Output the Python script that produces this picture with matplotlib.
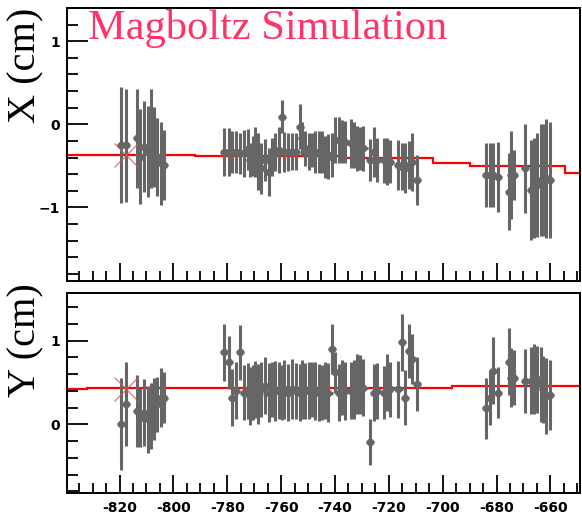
"""Track residual plot: Magboltz simulation, X and Y vs z."""

import matplotlib
matplotlib.use("Agg")
import matplotlib.pyplot as plt
from matplotlib.ticker import MultipleLocator

# hit positions along the drift (z) shared by both panels
Z_POS = [
    -819.4, -817.7, -813.4, -812.3, -810.8, -809.5, -808.4, -807.3, -806.0, -804.7, -803.4,
    -781.1, -779.5, -778.2, -776.6, -775.2, -773.9, -772.2, -771.4, -770.3, -769.6,
    -768.4, -767.5, -765.9, -764.6, -763.4, -762.2, -760.9, -759.7, -758.8, -757.6,
    -756.0, -754.4, -753.1, -752.2, -751.0, -749.8, -748.5, -747.3, -746.1, -744.8,
    -743.6, -742.4, -741.1, -739.9, -738.6, -737.4, -736.2, -734.0, -733.1, -731.8,
    -730.6, -729.4, -726.9, -725.6, -724.4, -721.9, -720.7, -719.4, -716.4, -715.1,
    -713.9, -712.6, -711.4, -709.5,
    -683.8, -682.3, -681.4, -679.6, -675.5, -674.6, -673.4, -669.4, -667.1, -666.0,
    -665.0, -663.5, -662.7, -661.5, -660.0,
]

X_VAL = [
    -0.25, -0.25, -0.17, -0.39, -0.27, -0.33, -0.17, -0.27, -0.39, -0.47, -0.49,
    -0.33, -0.33, -0.33, -0.33, -0.35, -0.35, -0.30, -0.43, -0.38, -0.33,
    -0.45, -0.53, -0.43, -0.57, -0.39, -0.33, -0.31, 0.09, -0.33, -0.33,
    -0.33, -0.33, -0.03, -0.17, -0.29, -0.33, -0.31, -0.33, -0.33, -0.33,
    -0.39, -0.39, -0.37, -0.19, -0.19, -0.21, -0.21, -0.23, -0.25, -0.29,
    -0.29, -0.29, -0.43, -0.33, -0.43, -0.43, -0.45, -0.45, -0.49, -0.51,
    -0.53, -0.49, -0.45, -0.67,
    -0.61, -0.61, -0.61, -0.63, -0.81, -0.61, -0.61, -0.53, -0.79, -0.77,
    -0.73, -0.67, -0.67, -0.65, -0.67,
]
X_ERR = [
    0.70, 0.68, 0.60, 0.57, 0.55, 0.55, 0.60, 0.48, 0.47, 0.50, 0.42,
    0.29, 0.29, 0.25, 0.25, 0.25, 0.28, 0.25, 0.20, 0.24, 0.30,
    0.34, 0.31, 0.25, 0.29, 0.23, 0.23, 0.28, 0.20, 0.24, 0.23,
    0.22, 0.22, 0.27, 0.20, 0.21, 0.22, 0.20, 0.25, 0.25, 0.25,
    0.25, 0.27, 0.26, 0.28, 0.28, 0.26, 0.25, 0.30, 0.28, 0.27,
    0.26, 0.27, 0.25, 0.30, 0.26, 0.27, 0.28, 0.26, 0.30, 0.28,
    0.30, 0.29, 0.35, 0.30,
    0.38, 0.38, 0.38, 0.42, 0.46, 0.53, 0.30, 0.54, 0.60, 0.60,
    0.62, 0.67, 0.67, 0.72, 0.70,
]

Y_VAL = [
    0.00, 0.24, 0.16, 0.08, 0.14, 0.06, 0.10, 0.18, 0.24, 0.32, 0.32,
    0.86, 0.74, 0.32, 0.40, 0.86, 0.38, 0.40, 0.34, 0.38, 0.42,
    0.36, 0.42, 0.46, 0.38, 0.42, 0.40, 0.40, 0.38, 0.42, 0.38,
    0.42, 0.40, 0.38, 0.42, 0.40, 0.40, 0.42, 0.40, 0.38, 0.38,
    0.40, 0.38, 0.90, 0.62, 0.38, 0.44, 0.40, 0.40, 0.42, 0.48,
    0.48, 0.44, -0.21, 0.38, 0.40, 0.38, 0.50, 0.42, 0.42, 0.98,
    0.32, 0.88, 0.78, 0.48,
    0.19, 0.32, 0.64, 0.38, 0.75, 0.56, 0.56, 0.52, 0.52, 0.54,
    0.54, 0.48, 0.42, 0.34, 0.35,
]
Y_ERR = [
    0.55, 0.50, 0.43, 0.35, 0.40, 0.40, 0.40, 0.37, 0.33, 0.35, 0.30,
    0.34, 0.32, 0.34, 0.34, 0.33, 0.33, 0.33, 0.35, 0.33, 0.34,
    0.36, 0.33, 0.34, 0.35, 0.33, 0.36, 0.34, 0.33, 0.35, 0.34,
    0.36, 0.33, 0.34, 0.35, 0.33, 0.34, 0.33, 0.35, 0.34, 0.33,
    0.34, 0.35, 0.30, 0.25, 0.34, 0.33, 0.35, 0.34, 0.35, 0.36,
    0.35, 0.34, 0.28, 0.34, 0.33, 0.32, 0.34, 0.33, 0.34, 0.34,
    0.33, 0.32, 0.30, 0.32,
    0.37, 0.33, 0.40, 0.30, 0.40, 0.35, 0.33, 0.38, 0.40, 0.42,
    0.40, 0.45, 0.40, 0.45, 0.42,
]

# fitted track, drawn as a step histogram
FIT_X_EDGES = [-839.5, -791.9, -738.0, -703.5, -689.7, -654.4, -649.0]
FIT_X_VALS = [-0.372, -0.384, -0.408, -0.468, -0.504, -0.585]
FIT_Y_EDGES = [-839.5, -832.1, -696.5, -649.0]
FIT_Y_VALS = [0.420, 0.436, 0.453]

# track start point
START_Z = -817.7
START_X = -0.37
START_Y = 0.42

Z_TICKS = [-820, -800, -780, -760, -740, -720, -700, -680, -660]

GREY = "#666666"
TICK_FONT = dict(family="DejaVu Sans", weight="bold", size=10)


def _style_axis(ax, ylim, show_xlabels):
    ax.set_xlim(-839.5, -649.0)
    ax.set_ylim(*ylim)
    ax.xaxis.set_major_locator(MultipleLocator(20))
    ax.xaxis.set_minor_locator(MultipleLocator(5))
    ax.yaxis.set_major_locator(MultipleLocator(1))
    ax.yaxis.set_minor_locator(MultipleLocator(0.2))
    ax.tick_params(which="both", direction="in", top=False, right=False, width=1.3)
    ax.tick_params(axis="x", which="major", length=13)
    ax.tick_params(axis="x", which="minor", length=7)
    ax.tick_params(axis="y", which="major", length=15, pad=5)
    ax.tick_params(axis="y", which="minor", length=8)
    for sp in ax.spines.values():
        sp.set_linewidth(1.4)
    ax.set_xticks(Z_TICKS)
    if show_xlabels:
        ax.set_xticklabels([str(t) for t in Z_TICKS], fontdict=TICK_FONT)
        ax.tick_params(axis="x", pad=6)
    else:
        ax.set_xticklabels([])
    for lab in ax.get_yticklabels():
        lab.set_fontproperties(matplotlib.font_manager.FontProperties(**TICK_FONT))


def _draw_panel(ax, vals, errs, edges, fit, start):
    ax.stairs(fit, edges, color="red", linewidth=1.6, baseline=None, zorder=2)
    ax.errorbar(Z_POS, vals, yerr=errs, xerr=1.5, fmt="o", ms=4.5,
                color=GREY, ecolor=GREY, elinewidth=2.2, capsize=0, zorder=3)
    ax.plot([START_Z], [start], marker="x", ms=17, mew=0.9,
            color="#e05050", alpha=0.8, linestyle="none", zorder=4)


fig = plt.figure(figsize=(5.82, 5.21), dpi=100)
ax_top = fig.add_axes([67 / 582, 1 - 281 / 521, 513 / 582, 273 / 521])
ax_bot = fig.add_axes([67 / 582, 1 - 493 / 521, 513 / 582, 200 / 521])

_draw_panel(ax_top, X_VAL, X_ERR, FIT_X_EDGES, FIT_X_VALS, START_X)
_draw_panel(ax_bot, Y_VAL, Y_ERR, FIT_Y_EDGES, FIT_Y_VALS, START_Y)

_style_axis(ax_top, (-1.885, 1.40), show_xlabels=False)
_style_axis(ax_bot, (-0.82, 1.57), show_xlabels=True)

label_font = dict(family="Liberation Serif", size=29)
ax_top.set_ylabel("X (cm)", loc="top", **label_font)
ax_bot.set_ylabel("Y (cm)", loc="top", **label_font)
ax_top.yaxis.set_label_coords(-0.045, 1.0)
ax_bot.yaxis.set_label_coords(-0.045, 1.05)

ax_top.text(0.041, 0.995, "Magboltz Simulation", transform=ax_top.transAxes,
            ha="left", va="top", color="#ff3366", family="Liberation Serif", size=30.5)

fig.savefig("out.png", dpi=100)
plt.close(fig)
